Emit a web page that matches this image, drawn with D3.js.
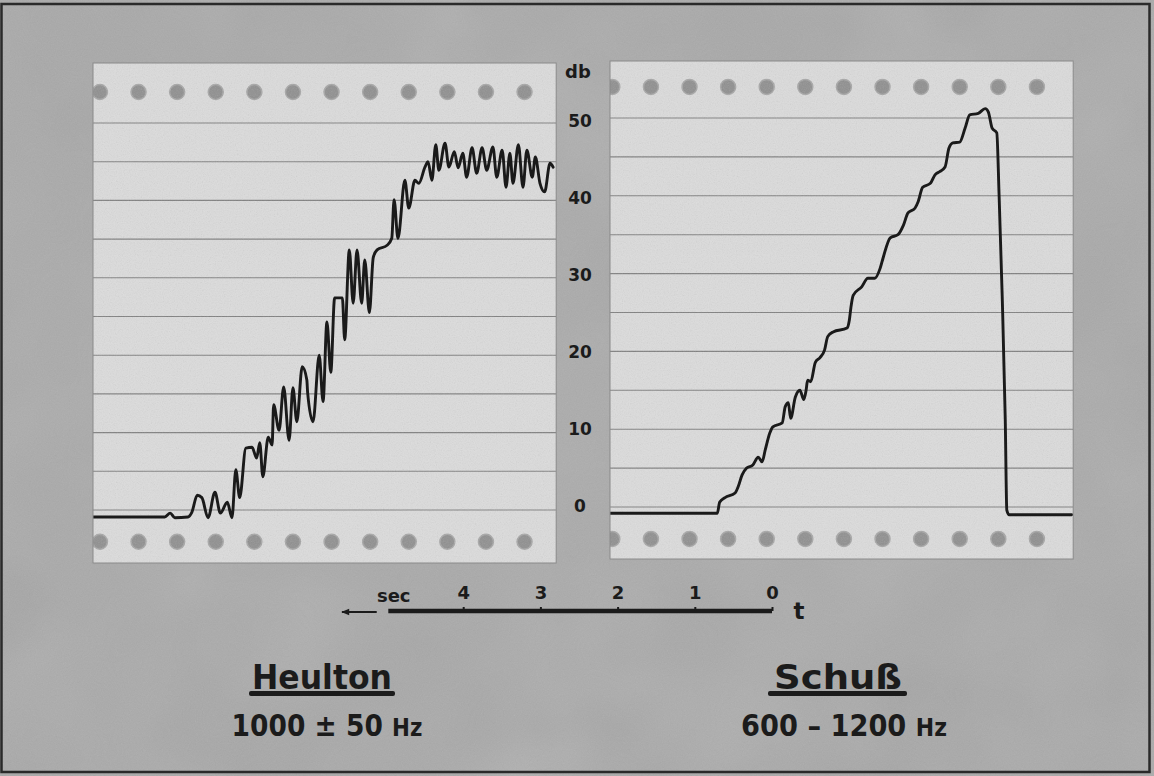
<!DOCTYPE html>
<html>
<head>
	<meta charset="utf-8">
	<title>Heulton / Schuss</title>
	<script src="https://d3js.org/d3.v7.min.js"></script>
	<style>
		body { margin: 0; background: #a8a8a8; }
		text { font-family: "DejaVu Sans", "Liberation Sans", sans-serif; font-weight: bold; fill: #1b1b1b; }
	</style>
</head>
<body>
	<script>
		var width = 1154, height = 776;

		// level scale (db) and time axis ticks (sec)
		var dbTicks = [0, 10, 20, 30, 40, 50];
		var gridLevels = [0, 5, 10, 15, 20, 25, 30, 35, 40, 45, 50];
		var timeTicks = [0, 1, 2, 3, 4];

		// Heulton trace: position along strip (sec) and level (db)
		var heultonT = [0.00, 0.93, 1.00, 1.06, 1.23, 1.28, 1.35, 1.41, 1.49, 1.58, 1.65, 1.74, 1.80, 1.85, 1.90,
			1.98, 2.06, 2.12, 2.16, 2.20, 2.27, 2.32, 2.34, 2.41, 2.47, 2.54, 2.59, 2.64, 2.71, 2.77, 2.78, 2.85,
			2.93, 2.98, 3.03, 3.08, 3.13, 3.23, 3.26, 3.32, 3.37, 3.42, 3.48, 3.52, 3.58, 3.63, 3.68, 3.81, 3.87,
			3.90, 3.95, 4.04, 4.09, 4.17, 4.22, 4.30, 4.34, 4.39, 4.44, 4.48, 4.56, 4.61, 4.68, 4.73, 4.79, 4.84,
			4.91, 4.97, 5.04, 5.10, 5.18, 5.23, 5.30, 5.35, 5.40, 5.44, 5.51, 5.57, 5.62, 5.69, 5.73, 5.79, 5.85,
			5.92, 5.96];
		var heultonDb = [-0.9, -0.9, -0.4, -1.0, -0.9, -0.3, 1.9, 1.6, -1.0, 2.3, -0.4, 1.0, -1.0, 5.2, 1.6,
			8.0, 8.1, 6.7, 8.7, 4.3, 9.4, 8.4, 13.6, 10.3, 15.9, 9.0, 15.8, 11.4, 18.5, 16.8, 15.2, 11.4,
			20.0, 14.0, 24.3, 17.8, 27.4, 27.4, 22.0, 33.6, 26.7, 33.6, 26.7, 32.3, 25.5, 32.6, 33.6, 34.2, 35.1,
			40.1, 35.1, 42.6, 39.0, 42.6, 42.2, 44.3, 45.0, 42.6, 47.2, 43.9, 47.4, 44.3, 46.3, 44.2, 46.1, 43.0,
			46.8, 43.5, 46.8, 43.9, 46.9, 43.0, 46.5, 41.7, 46.1, 42.2, 47.2, 41.7, 46.5, 43.0, 45.6, 42.2, 41.1,
			44.8, 44.3];

		// Schuss trace
		var schussT = [0.00, 1.39, 1.42, 1.49, 1.62, 1.66, 1.71, 1.77, 1.85, 1.92, 1.97, 2.01, 2.07, 2.11, 2.23,
			2.27, 2.31, 2.34, 2.40, 2.46, 2.51, 2.54, 2.56, 2.60, 2.66, 2.72, 2.78, 2.82, 2.89, 3.07, 3.10, 3.12,
			3.15, 3.26, 3.34, 3.43, 3.50, 3.54, 3.63, 3.73, 3.80, 3.86, 3.95, 3.99, 4.05, 4.15, 4.21, 4.27, 4.34,
			4.39, 4.44, 4.53, 4.60, 4.66, 4.77, 4.86, 4.90, 4.95, 5.01, 5.04, 5.08, 5.12, 5.14, 5.17, 5.98];
		var schussDb = [-0.8, -0.8, 0.6, 1.2, 1.8, 2.6, 4.1, 5.0, 5.4, 6.4, 5.8, 7.3, 9.5, 10.3, 10.8,
			12.9, 13.4, 11.4, 14.1, 15.0, 13.8, 15.0, 16.3, 16.1, 18.6, 19.2, 20.2, 21.9, 22.5, 23.0, 24.0, 25.6,
			27.2, 28.3, 29.4, 29.4, 30.7, 32.1, 34.6, 35.0, 36.2, 37.8, 38.4, 39.2, 41.1, 41.6, 42.7, 43.1, 43.7,
			46.1, 46.8, 46.9, 48.7, 50.4, 50.6, 51.2, 50.8, 48.7, 48.1, 40.1, 27.2, 11.2, -0.4, -1.0, -1.0];

		var svg = d3.select("body").append("svg").attr("width", width).attr("height", height);
		var defs = svg.append("defs");

		// grain for the photographed paper
		var grain = defs.append("filter").attr("id", "grain").attr("x", 0).attr("y", 0).attr("width", 1).attr("height", 1);
		grain.append("feTurbulence").attr("type", "fractalNoise").attr("baseFrequency", 0.85).attr("numOctaves", 2).attr("seed", 4);
		grain.append("feColorMatrix").attr("type", "saturate").attr("values", 0);
		var blotch = defs.append("filter").attr("id", "blotch").attr("x", 0).attr("y", 0).attr("width", 1).attr("height", 1);
		blotch.append("feTurbulence").attr("type", "fractalNoise").attr("baseFrequency", 0.006).attr("numOctaves", 3).attr("seed", 9);
		blotch.append("feColorMatrix").attr("type", "saturate").attr("values", 0);

		svg.append("rect").attr("width", width).attr("height", height).attr("fill", "#a9a9a9");
		svg.append("rect").attr("width", width).attr("height", height).attr("filter", "url(#blotch)").attr("opacity", 0.22);
		svg.append("rect").attr("width", width).attr("height", height).attr("filter", "url(#grain)").attr("opacity", 0.12);

		var strips = [
			{ name: "L", x0: 93, y0: 63, y1: 563, zero: 510, fifty: 123, t: heultonT, db: heultonDb, hole0: 0.09 },
			{ name: "R", x0: 610, y0: 61, y1: 559, zero: 507, fifty: 118, t: schussT, db: schussDb, hole0: 0.03 }
		];
		var pxPerSec = 77.2;

		strips.forEach(function(s) {
			var x = d3.scaleLinear().domain([0, 6]).range([s.x0, s.x0 + 6 * pxPerSec]);
			var y = d3.scaleLinear().domain([0, 50]).range([s.zero, s.fifty]);
			var g = svg.append("g");
			var x1 = x(6);

			defs.append("clipPath").attr("id", "clip" + s.name)
				.append("rect").attr("x", s.x0).attr("y", s.y0).attr("width", x1 - s.x0).attr("height", s.y1 - s.y0);

			g.append("rect").attr("x", s.x0).attr("y", s.y0).attr("width", x1 - s.x0).attr("height", s.y1 - s.y0)
				.attr("fill", "#dcdcdc");

			var inner = g.append("g").attr("clip-path", "url(#clip" + s.name + ")");

			inner.selectAll("line.grid").data(gridLevels).enter().append("line")
				.attr("class", "grid")
				.attr("x1", s.x0).attr("x2", x1)
				.attr("y1", function(d) { return y(d); }).attr("y2", function(d) { return y(d); })
				.attr("stroke", "#808080").attr("stroke-width", 1.1);

			var holes = d3.range(12).map(function(i) { return s.hole0 + 0.5 * i; });
			[54, -4.1].forEach(function(level) {
				inner.selectAll(null).data(holes).enter().append("circle")
					.attr("cx", function(d) { return x(d); })
					.attr("cy", y(level))
					.attr("r", 7.5)
					.attr("fill", "#909090")
					.attr("stroke", "#a8a8a8").attr("stroke-width", 1.5);
			});

			inner.append("rect").attr("x", s.x0).attr("y", s.y0).attr("width", x1 - s.x0).attr("height", s.y1 - s.y0)
				.attr("filter", "url(#grain)").attr("opacity", 0.2);

			var line = d3.line()
				.x(function(d) { return x(d[0]); })
				.y(function(d) { return y(d[1]); })
				.curve(d3.curveMonotoneX);
			var pts = s.t.map(function(t, i) { return [t, s.db[i]]; });
			inner.append("path").attr("d", line(pts))
				.attr("fill", "none").attr("stroke", "#1a1a1a").attr("stroke-width", 2.9)
				.attr("stroke-linejoin", "round").attr("stroke-linecap", "round");

			g.append("rect").attr("x", s.x0).attr("y", s.y0).attr("width", x1 - s.x0).attr("height", s.y1 - s.y0)
				.attr("fill", "none").attr("stroke", "#8a8a8a").attr("stroke-width", 1);
		});

		// db scale in the gap between the strips
		var yAxisScale = d3.scaleLinear().domain([0, 50]).range([506, 121]);
		var yAxis = svg.append("g").attr("transform", "translate(580,0)")
			.call(d3.axisLeft(yAxisScale).tickValues(dbTicks).tickSize(0).tickPadding(0).tickFormat(d3.format("d")));
		yAxis.select(".domain").remove();
		yAxis.selectAll("text").attr("x", 0).attr("dy", "0.35em").attr("text-anchor", "middle")
			.style("font-size", "17px").style("font-family", "'DejaVu Sans', sans-serif").style("font-weight", "bold")
			.attr("fill", "#1b1b1b");
		svg.append("text").attr("x", 578).attr("y", 78).attr("text-anchor", "middle")
			.style("font-size", "18px").text("db");

		// time axis, running right to left
		var xT = d3.scaleLinear().domain([0, 5]).range([772, 386]);
		var tAxis = svg.append("g").attr("transform", "translate(0,611)")
			.call(d3.axisTop(xT).tickValues(timeTicks).tickSize(4).tickSizeOuter(0).tickPadding(8).tickFormat(d3.format("d")));
		tAxis.select(".domain").attr("stroke", "#1b1b1b").attr("stroke-width", 4.5)
			.attr("d", "M" + xT(4.97) + ",0H" + xT(0));
		tAxis.selectAll(".tick line").attr("stroke", "#1b1b1b").attr("stroke-width", 2);
		tAxis.selectAll("text").style("font-size", "18px").style("font-family", "'DejaVu Sans', sans-serif")
			.style("font-weight", "bold").attr("fill", "#1b1b1b");
		svg.append("text").attr("x", xT(4.9)).attr("y", 602).attr("text-anchor", "middle")
			.style("font-size", "18px").text("sec");
		defs.append("marker").attr("id", "arrow").attr("viewBox", "0 0 10 10").attr("refX", 9).attr("refY", 5)
			.attr("markerWidth", 5).attr("markerHeight", 4).attr("orient", "auto")
			.append("path").attr("d", "M0,1L10,5L0,9Z").attr("fill", "#1b1b1b");
		svg.append("line").attr("x1", xT(5.12)).attr("x2", xT(5.57)).attr("y1", 612).attr("y2", 612)
			.attr("stroke", "#1b1b1b").attr("stroke-width", 2).attr("marker-end", "url(#arrow)");
		svg.append("text").attr("x", 799).attr("y", 619).attr("text-anchor", "middle")
			.style("font-size", "23px").text("t");

		// captions, squeezed to the narrow lettering of the original
		function fitText(t, cx, target) {
			var w = t.node().getComputedTextLength();
			t.attr("transform", "translate(" + cx + ",0) scale(" + (target / w) + ",1)");
		}
		var captions = [
			{ title: "Heulton", cx: 322, tw: 140, ux0: 249, ux1: 395, sub: "1000 \u00b1 50 ", scx: 327, sw: 191 },
			{ title: "Schu\u00df", cx: 838, tw: 128, ux0: 768, ux1: 907, sub: "600 \u2013 1200 ", scx: 844, sw: 206 }
		];
		captions.forEach(function(c) {
			var title = svg.append("text").attr("x", 0).attr("y", 689).attr("text-anchor", "middle")
				.style("font-size", "33px").text(c.title);
			fitText(title, c.cx, c.tw);
			svg.append("rect").attr("x", c.ux0).attr("y", 691).attr("width", c.ux1 - c.ux0).attr("height", 5)
				.attr("rx", 2).attr("fill", "#1b1b1b");
			var sub = svg.append("text").attr("x", 0).attr("y", 736).attr("text-anchor", "middle")
				.style("font-size", "31px");
			sub.append("tspan").text(c.sub);
			sub.append("tspan").style("font-size", "25px").text("Hz");
			fitText(sub, c.scx, c.sw);
		});

		// photo frame
		svg.append("rect").attr("x", 1.5).attr("y", 4).attr("width", width - 6).attr("height", height - 8)
			.attr("fill", "none").attr("stroke", "#2a2a2a").attr("stroke-width", 2.5);
	</script>
</body>
</html>
